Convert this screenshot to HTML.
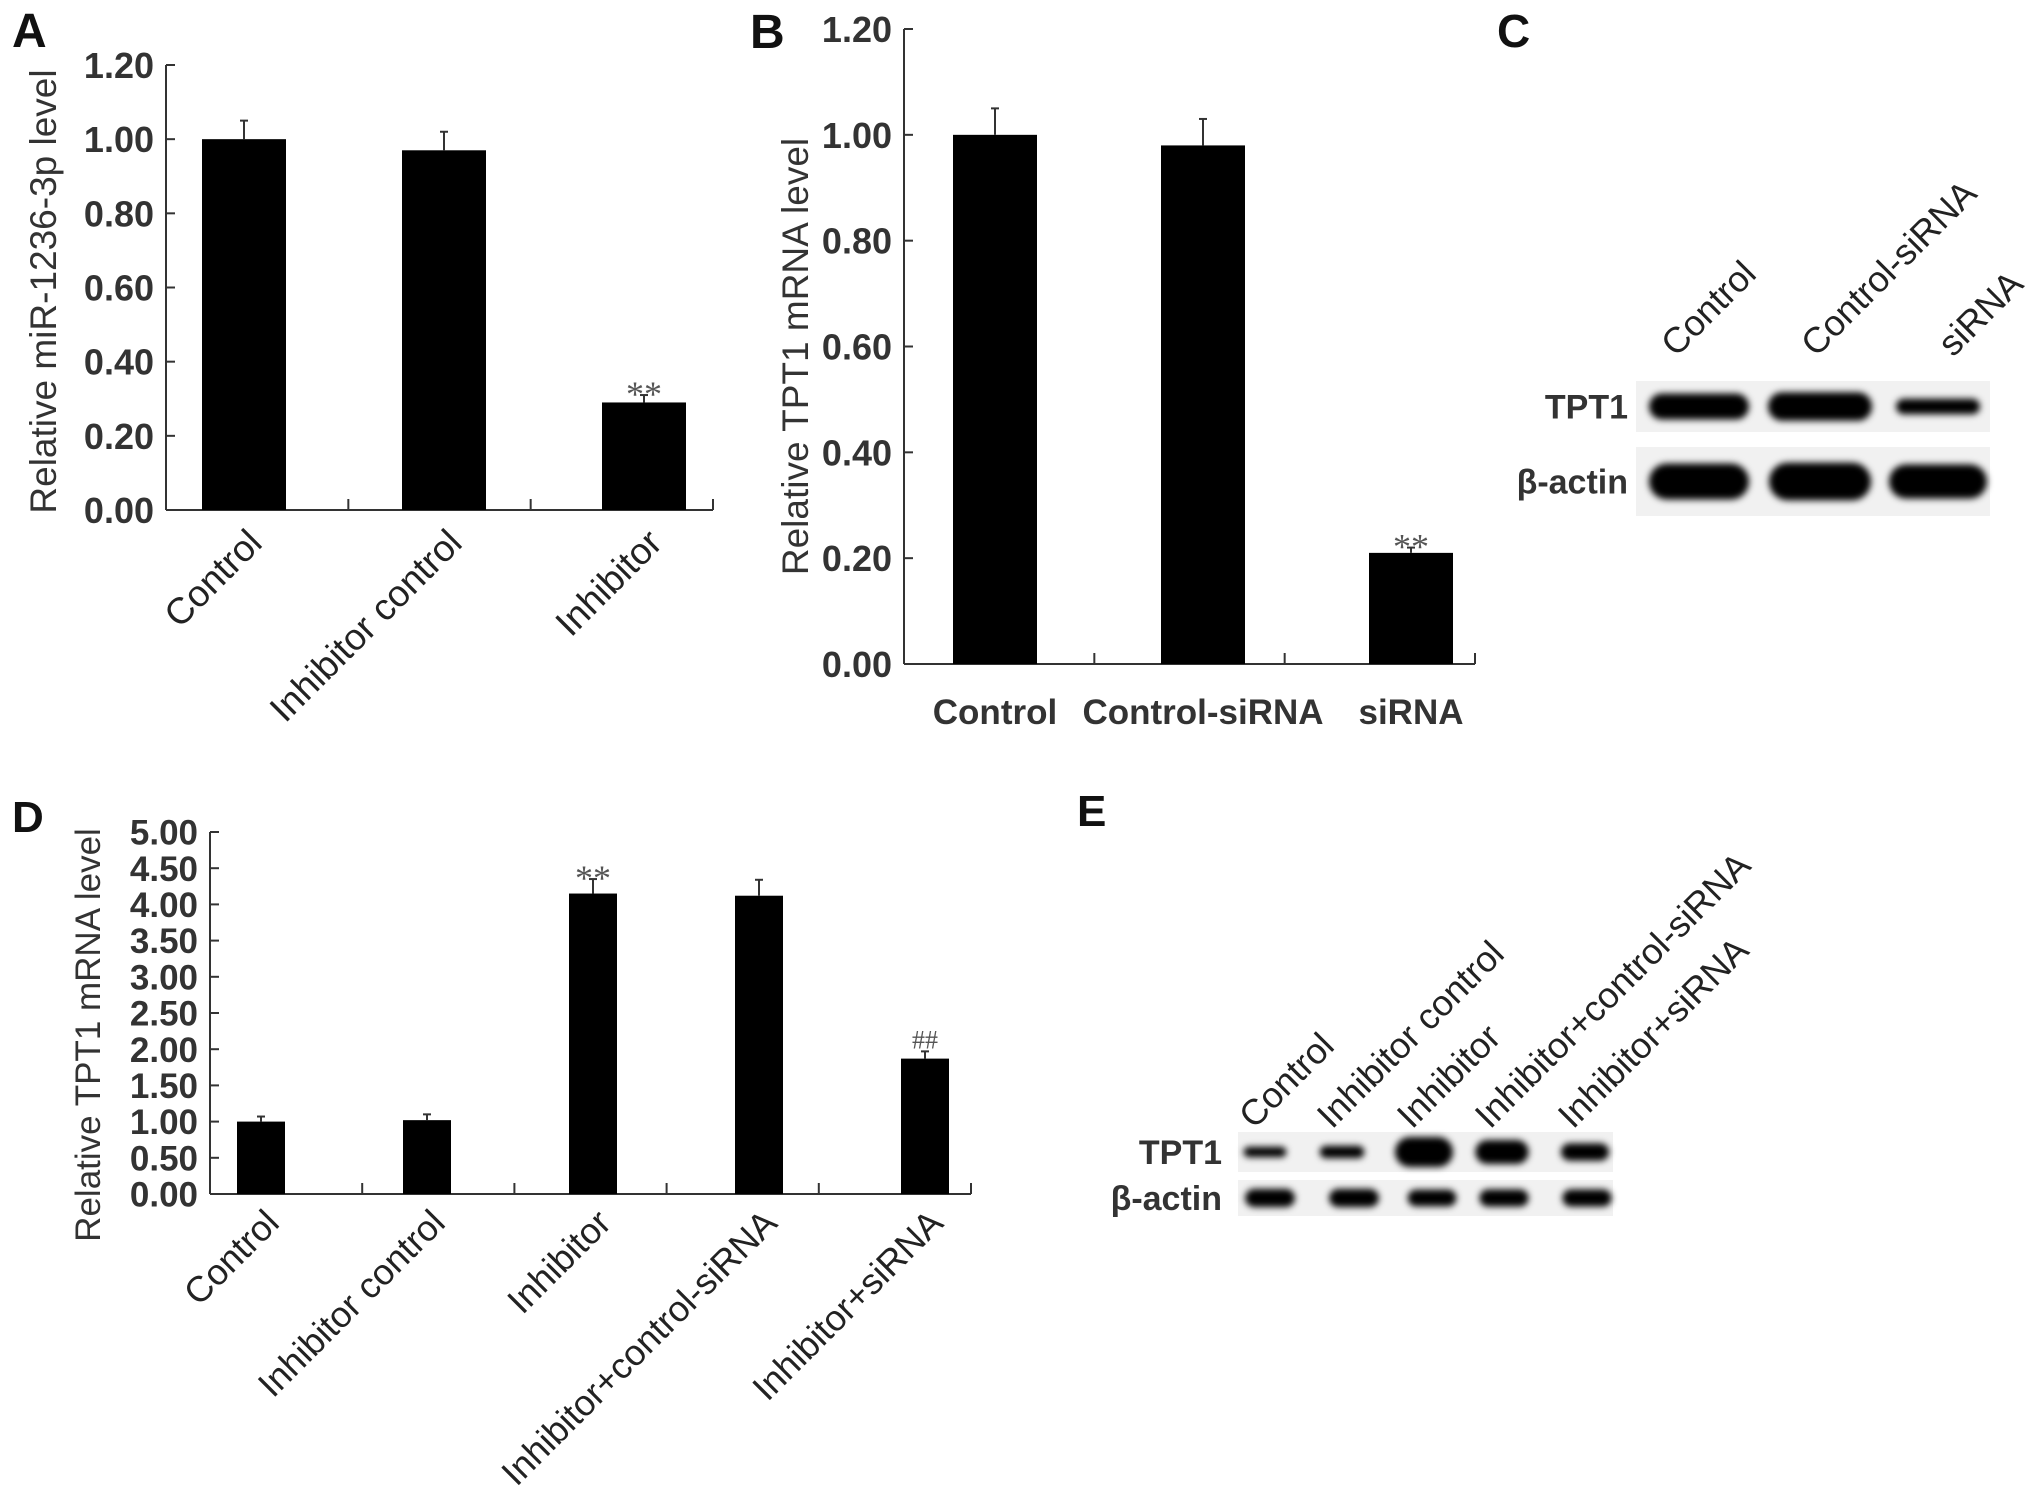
<!DOCTYPE html>
<html><head><meta charset="utf-8">
<style>
html,body{margin:0;padding:0;background:#fff;}
svg{display:block;font-family:"Liberation Sans",Arial,sans-serif;}
</style></head>
<body>
<svg id="fig" width="2031" height="1509" viewBox="0 0 2031 1509" xmlns="http://www.w3.org/2000/svg">
<defs>
<filter id="blur" x="-50%" y="-100%" width="200%" height="300%"><feGaussianBlur stdDeviation="3.5"/></filter>
</defs>
<g id="panelA"></g>
<g id="panelB"></g>
<g id="panelC"></g>
<g id="panelD"></g>
<g id="panelE"></g>
</svg>
<script>
// Panel A data
const catsA = ["Control", "Inhibitor control", "Inhibitor"];
const valsA = [1.00, 0.97, 0.29];
const errA = [0.05, 0.05, 0.02];
const ticksA = ["0.00","0.20","0.40","0.60","0.80","1.00","1.20"];
const sigA = ["", "", "**"];
// Panel B data
const catsB = ["Control", "Control-siRNA", "siRNA"];
const valsB = [1.00, 0.98, 0.21];
const errB = [0.05, 0.05, 0.01];
const ticksB = ["0.00","0.20","0.40","0.60","0.80","1.00","1.20"];
const sigB = ["", "", "**"];
// Panel D data
const catsD = ["Control", "Inhibitor control", "Inhibitor", "Inhibitor+control-siRNA", "Inhibitor+siRNA"];
const valsD = [1.00, 1.02, 4.15, 4.12, 1.87];
const errD = [0.07, 0.08, 0.20, 0.22, 0.10];
const ticksD = ["0.00","0.50","1.00","1.50","2.00","2.50","3.00","3.50","4.00","4.50","5.00"];
const sigD = ["", "", "**", "", "##"];
// Blot band intensities (relative band size)
const blotCLanes = ["Control", "Control-siRNA", "siRNA"];
const blotCTpt1 = [1.0, 1.1, 0.6];
const blotCActin = [1.0, 1.05, 0.95];
const blotELanes = ["Control", "Inhibitor control", "Inhibitor", "Inhibitor+control-siRNA", "Inhibitor+siRNA"];
const blotETpt1 = [0.35, 0.42, 1.0, 0.8, 0.58];
const blotEActin = [0.65, 0.65, 0.6, 0.62, 0.62];

const NS = "http://www.w3.org/2000/svg";
function mk(parent, tag, attrs, text) {
  const e = document.createElementNS(NS, tag);
  for (const k in attrs) e.setAttribute(k, attrs[k]);
  if (text !== undefined) e.textContent = text;
  parent.appendChild(e);
  return e;
}

function barChart(g, o) {
  const yMax = o.yMax;
  const ys = v => o.y0 - (v / yMax) * (o.y0 - o.yTop);
  const n = o.cats.length;
  const step = (o.xEnd - o.x0) / n;
  const xc = i => o.barStart + o.barStep * i;
  const ya = mk(g, "line", {x1:o.x0, y1:o.yTop, x2:o.x0, y2:o.y0, stroke:"#333", "stroke-width":2});
  
  
  const xa = mk(g, "line", {x1:o.x0, y1:o.y0, x2:o.xEnd, y2:o.y0, stroke:"#333", "stroke-width":2});
  
  
  o.ticks.forEach((t) => {
    const v = parseFloat(t);
    const y = ys(v);
    const tl = mk(g, "line", {x1:o.x0, y1:y, x2:o.x0 + 9, y2:y, stroke:"#333", "stroke-width":2});
    
    
    const tx = mk(g, "text", {x:o.x0 - 12, y:y + o.tickFont*0.36, "text-anchor":"end", "font-size":o.tickFont, "font-weight":"bold", fill:"#333"}, t);
    
    
  });
  for (let i = 1; i <= n; i++) {
    const x = o.x0 + step * i;
    const t = mk(g, "line", {x1:x, y1:o.y0, x2:x, y2:o.y0 - 11, stroke:"#333", "stroke-width":2});
    
    
  }
  o.vals.forEach((v, i) => {
    const c = xc(i);
    const top = ys(v);
    const b = mk(g, "rect", {x:c - o.bw/2, y:top, width:o.bw, height:o.y0 - top, fill:"#000"});
    
    
    const et = ys(v + o.err[i]);
    const el = mk(g, "line", {x1:c, y1:top, x2:c, y2:et, stroke:"#333", "stroke-width":2});
    
    
    const ec = mk(g, "line", {x1:c - 4, y1:et, x2:c + 4, y2:et, stroke:"#333", "stroke-width":2});
    
    
    if (o.sig[i]) {
      const isStar = o.sig[i] === "**";
      const s = mk(g, "text", {x:c, y:et + (isStar ? 11 : -3), "text-anchor":"middle", "font-size":isStar ? 36 : 26, fill:"#555", "font-family":"Liberation Serif, serif"}, o.sig[i]);
      
      
    }
    let lab;
    if (o.rotate) {
      const lx = c + o.labDx, ly = o.labY;
      lab = mk(g, "text", {x:lx, y:ly, "text-anchor":"end", "font-size":o.labFont, fill:"#222", transform:`rotate(-45 ${lx} ${ly})`}, o.cats[i]);
    } else {
      lab = mk(g, "text", {x:c, y:o.labY, "text-anchor":"middle", "font-size":o.labFont, "font-weight":"bold", fill:"#333"}, o.cats[i]);
    }
    
    
  });
  const cy = (o.yTop + o.y0)/2 + (o.titleDy||0);
  const yt = mk(g, "text", {x:o.titleX, y:cy, "text-anchor":"middle", "font-size":o.titleFont, fill:"#333", transform:`rotate(-90 ${o.titleX} ${cy})`}, o.title);
  
  
  const pl = mk(g, "text", {x:o.letter[0], y:o.letter[1], "font-size":o.letter[2], "font-weight":"bold", fill:"#111"}, o.letter[3]);
  
  
}

barChart(document.getElementById("panelA"), {
  cats:catsA, vals:valsA, err:errA, ticks:ticksA, sig:sigA, yMax:1.2,
  x0:166, xEnd:713, y0:510, yTop:65, bw:84, barStart:244, barStep:200,
  tickFont:36, labFont:37, labY:545, labDx:20, rotate:true,
  title:"Relative miR-1236-3p level", titleX:56, titleFont:37, titleDy:4,
  letter:[12, 47, 48, "A"]
});
barChart(document.getElementById("panelB"), {
  cats:catsB, vals:valsB, err:errB, ticks:ticksB, sig:sigB, yMax:1.2,
  x0:904, xEnd:1475, y0:664, yTop:29, bw:84, barStart:995, barStep:208,
  tickFont:36, labFont:35, labY:724, rotate:false,
  title:"Relative TPT1 mRNA level", titleX:808, titleFont:37, titleDy:10,
  letter:[750, 48, 48, "B"]
});
barChart(document.getElementById("panelD"), {
  cats:catsD, vals:valsD, err:errD, ticks:ticksD, sig:sigD, yMax:5,
  x0:210, xEnd:971, y0:1194, yTop:832, bw:48, barStart:261, barStep:166,
  tickFont:35, labFont:36, labY:1225, labDx:20, rotate:true,
  title:"Relative TPT1 mRNA level", titleX:100, titleFont:35, titleDy:22,
  letter:[12, 832, 44, "D"]
});

function blot(g, o) {
  const pl = mk(g, "text", {x:o.letter[0], y:o.letter[1], "font-size":o.letter[2], "font-weight":"bold", fill:"#111"}, o.letter[3]);
  
  
  o.rows.forEach((r) => {
    const bg = mk(g, "rect", {x:o.bx0, y:r.y0, width:o.bx1 - o.bx0, height:r.y1 - r.y0, fill:"#f1f1f1"});
    
    
    const rl = mk(g, "text", {x:o.rowLabX, y:(r.y0 + r.y1)/2 + o.rowFont*0.36, "text-anchor":"end", "font-size":o.rowFont, "font-weight":"bold", fill:"#333"}, r.name);
    
    
    r.vals.forEach((v, i) => {
      const cx = o.laneX[i] + (r.dx ? r.dx[i] : 0);
      const cy = (r.y0 + r.y1)/2;
      const w = o.bandW * (0.6 + 0.4 * Math.min(v, 1.2));
      const h = r.bandH * v;
      const band = mk(g, "rect", {x:cx - w/2, y:cy - h/2, width:w, height:h, rx:h/2, ry:h/2, fill:"#000", filter:"url(#blur)"});
      
      
    });
  });
  o.lanes.forEach((l, i) => {
    const lx = o.labX[i], ly = o.labY;
    const t = mk(g, "text", {x:lx, y:ly, "text-anchor":"start", "font-size":o.labFont, fill:"#222", transform:`rotate(-45 ${lx} ${ly})`}, l);
    
    
  });
}

blot(document.getElementById("panelC"), {
  letter:[1497, 47, 46, "C"],
  bx0:1636, bx1:1990, bandW:100, rowLabX:1628, rowFont:34, labFont:36,
  laneX:[1699, 1820, 1938],
  rows:[
    {name:"TPT1", y0:381, y1:432, vals:blotCTpt1, bandH:26},
    {name:"β-actin", y0:447, y1:516, vals:blotCActin, bandH:36}
  ],
  lanes:blotCLanes, labX:[1676, 1816, 1953], labY:358
});
blot(document.getElementById("panelE"), {
  letter:[1077, 826, 44, "E"],
  bx0:1238, bx1:1613, bandW:58, rowLabX:1222, rowFont:34, labFont:36,
  laneX:[1265, 1342, 1424, 1502, 1585],
  rows:[
    {name:"TPT1", y0:1132, y1:1172, vals:blotETpt1, bandH:30},
    {name:"β-actin", y0:1180, y1:1216, vals:blotEActin, bandH:28, dx:[5,12,8,2,2]}
  ],
  lanes:blotELanes, labX:[1254, 1332, 1412, 1490, 1573], labY:1130
});
</script>
</body></html>
